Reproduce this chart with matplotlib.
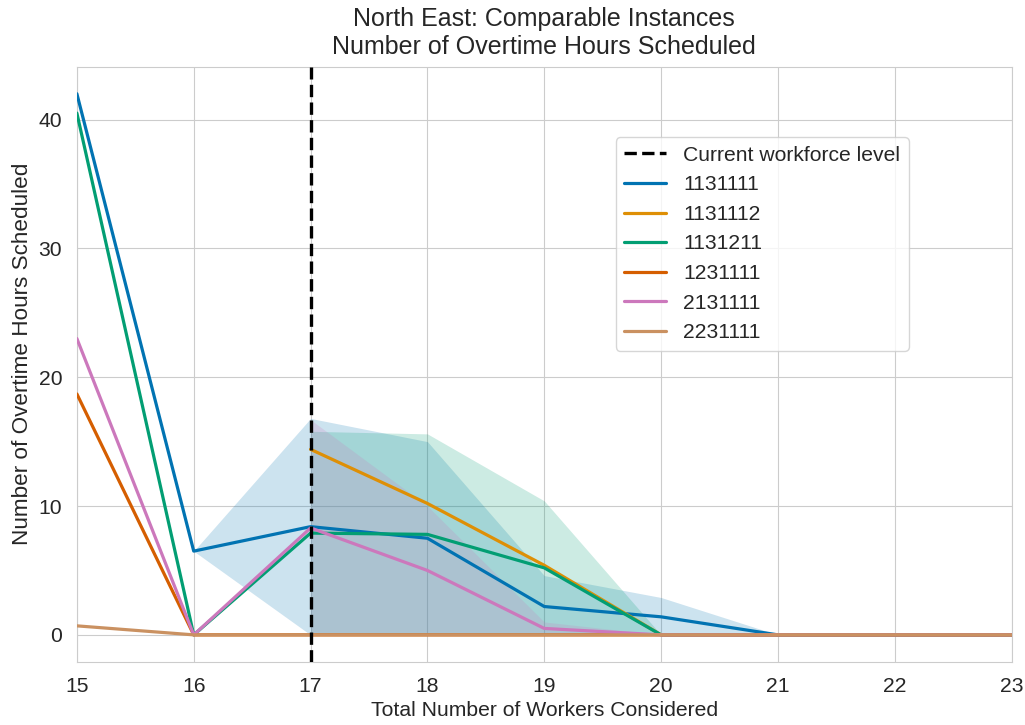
import numpy as np
import matplotlib
matplotlib.use("Agg")
import matplotlib.pyplot as plt
import seaborn as sns

workers = [15, 16, 17, 18, 19, 20, 21, 22, 23]
nan = np.nan

# mean overtime hours per instance type
overtime = {
    "1131111": [42.0, 6.5, 8.4, 7.5, 2.2, 1.4, 0, 0, 0],
    "1131112": [nan, nan, 14.4, 10.2, 5.4, 0, 0, 0, 0],
    "1131211": [40.5, 0, 7.9, 7.8, 5.2, 0, 0, 0, 0],
    "1231111": [18.7, 0, 0, 0, 0, 0, 0, 0, 0],
    "2131111": [23.0, 0, 8.3, 5.0, 0.5, 0, 0, 0, 0],
    "2231111": [0.7, 0, 0, 0, 0, 0, 0, 0, 0],
}

# spread of overtime hours (low / high) where several instances exist
band_low = {
    "1131111": [nan, 6.5, 0, 0, 0, 0, 0, nan, nan],
    "1131211": [nan, nan, 0, 0, 0, 0, nan, nan, nan],
    "2131111": [nan, nan, 0, 0, 0, 0, nan, nan, nan],
}
band_high = {
    "1131111": [nan, 6.5, 16.8, 15.0, 4.6, 2.9, 0, nan, nan],
    "1131211": [nan, nan, 15.8, 15.6, 10.4, 0, nan, nan, nan],
    "2131111": [nan, nan, 16.7, 10.0, 1.0, 0, nan, nan, nan],
}

current_level = 17

sns.set_style("whitegrid")
plt.rcParams["font.family"] = ["Liberation Sans", "DejaVu Sans"]
colors = sns.color_palette("colorblind")

fig, ax = plt.subplots(figsize=(10.25, 7.25), dpi=100)
fig.subplots_adjust(left=0.075, right=0.987, top=0.908, bottom=0.087)

ax.axvline(current_level, color="black", linestyle="--", linewidth=2.4,
           label="Current workforce level", zorder=5)

for i, (name, vals) in enumerate(overtime.items()):
    ax.plot(workers, vals, color=colors[i], linewidth=2.3, label=name, zorder=3)
    if name in band_low:
        lo = np.array(band_low[name], dtype=float)
        hi = np.array(band_high[name], dtype=float)
        ok = ~np.isnan(lo)
        ax.fill_between(np.array(workers)[ok], lo[ok], hi[ok],
                        color=colors[i], alpha=0.2, linewidth=0)

ax.set_xlim(15, 23)
ax.set_xticks(workers)
ax.tick_params(labelsize=15.2, pad=7)
ax.set_xlabel("Total Number of Workers Considered", fontsize=15.2, labelpad=4)
ax.set_ylabel("Number of Overtime Hours Scheduled", fontsize=16.2)
ax.yaxis.set_label_coords(-0.047, 0.518)
ax.set_title("North East: Comparable Instances\nNumber of Overtime Hours Scheduled",
             fontsize=18, pad=9)

ax.legend(loc="upper right", bbox_to_anchor=(0.901, 0.899), fontsize=15.2,
          frameon=True, handlelength=2.0, labelspacing=0.5)

fig.savefig("out.png", dpi=100)
